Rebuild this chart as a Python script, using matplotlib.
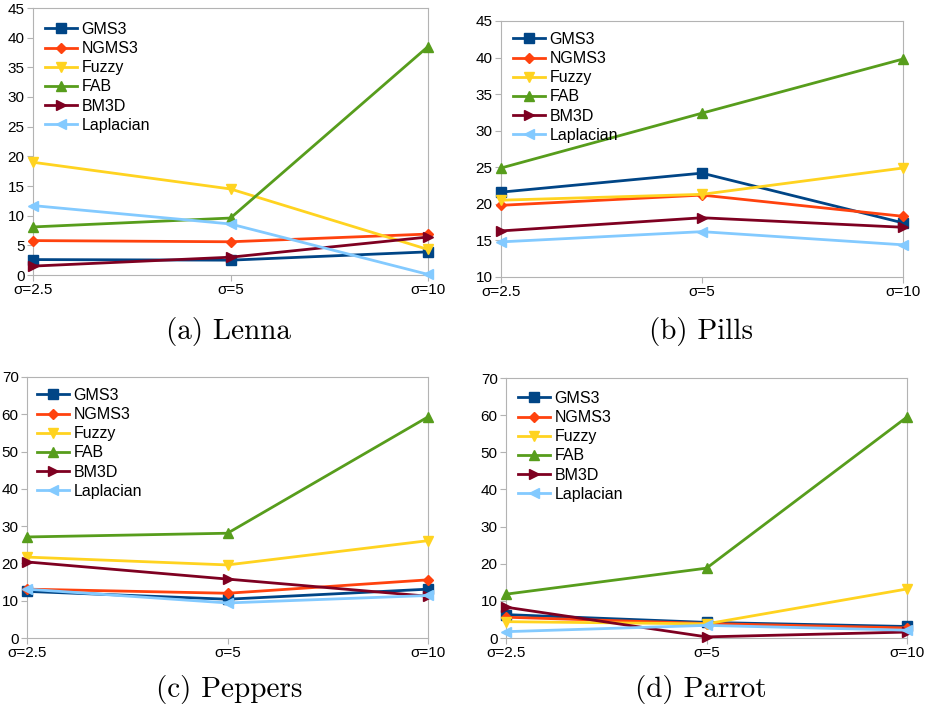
import matplotlib
matplotlib.use("Agg")
import matplotlib.pyplot as plt

plt.rcParams['font.family'] = ['Liberation Sans', 'DejaVu Sans']

x_labels = ["σ=2.5", "σ=5", "σ=10"]
methods = ["GMS3", "NGMS3", "Fuzzy", "FAB", "BM3D", "Laplacian"]

lenna = {
    "GMS3": [2.6, 2.5, 3.9],
    "NGMS3": [5.8, 5.6, 6.9],
    "Fuzzy": [19.0, 14.5, 4.3],
    "FAB": [8.1, 9.6, 38.5],
    "BM3D": [1.5, 3.0, 6.4],
    "Laplacian": [11.7, 8.6, 0.1],
}
pills = {
    "GMS3": [21.6, 24.2, 17.4],
    "NGMS3": [19.8, 21.2, 18.3],
    "Fuzzy": [20.5, 21.3, 24.9],
    "FAB": [24.9, 32.4, 39.8],
    "BM3D": [16.3, 18.1, 16.8],
    "Laplacian": [14.8, 16.2, 14.4],
}
peppers = {
    "GMS3": [12.5, 10.4, 13.1],
    "NGMS3": [13.1, 12.0, 15.6],
    "Fuzzy": [21.7, 19.6, 26.1],
    "FAB": [27.1, 28.1, 59.3],
    "BM3D": [20.4, 15.8, 11.2],
    "Laplacian": [13.1, 9.4, 11.4],
}
parrot = {
    "GMS3": [6.3, 4.2, 3.1],
    "NGMS3": [5.6, 3.9, 2.7],
    "Fuzzy": [4.4, 3.8, 13.2],
    "FAB": [11.8, 18.8, 59.5],
    "BM3D": [8.3, 0.3, 1.6],
    "Laplacian": [1.7, 3.4, 2.1],
}

captions = ["(a) Lenna", "(b) Pills", "(c) Peppers", "(d) Parrot"]
datasets = [lenna, pills, peppers, parrot]
ylims = [(0, 45, 5), (10, 45, 5), (0, 70, 10), (0, 70, 10)]

colors = {"GMS3": "#004586", "NGMS3": "#ff420e", "Fuzzy": "#ffd320",
          "FAB": "#579d1c", "BM3D": "#7e0021", "Laplacian": "#83caff"}
markers = {"GMS3": "s", "NGMS3": "D", "Fuzzy": "v", "FAB": "^",
           "BM3D": ">", "Laplacian": "<"}
msizes = {"GMS3": 6.5, "NGMS3": 5, "Fuzzy": 7.5, "FAB": 7.5, "BM3D": 7.5, "Laplacian": 7.5}

W, H = 925, 713
fig = plt.figure(figsize=(W / 100, H / 100), dpi=100)

# axes rectangles in pixels: left, top, right, bottom
rects = [(33, 8, 428, 275), (501, 21, 903, 277),
         (27, 377, 428, 638), (506, 378, 907, 638)]
# legend top-left offsets (pixels from axes top-left)
leg_off = [(12, 14), (12, 11), (10, 11), (12, 13)]
cap_pos = [(229, 332), (701, 332), (229, 690), (701, 690)]

for data, (l, t, r, b), (y0, y1, ys), cap, (cx, cy), (ox, oy) in zip(
        datasets, rects, ylims, captions, cap_pos, leg_off):
    ax = fig.add_axes([l / W, 1 - b / H, (r - l) / W, (b - t) / H])
    xs = range(len(x_labels))
    for m in methods:
        ax.plot(xs, data[m], color=colors[m], marker=markers[m], markersize=msizes[m],
                linewidth=2, label=m, clip_on=False, zorder=3)
    ax.set_xlim(0, 2)
    ax.set_ylim(y0, y1)
    ax.set_yticks(range(y0, y1 + 1, ys))
    ax.set_xticks(list(xs))
    ax.set_xticklabels(x_labels)
    for s in ax.spines.values():
        s.set_color("#b3b3b3")
    ax.tick_params(axis='y', length=4, color="#b3b3b3", labelsize=11, pad=2)
    ax.tick_params(axis='x', length=4, color="#b3b3b3", labelsize=11, pad=2)
    ax.legend(loc="upper left", bbox_to_anchor=(ox / (r - l), 1 - oy / (b - t)),
              frameon=False, fontsize=11.5, handlelength=2.0, labelspacing=0.26,
              handletextpad=0.3, borderaxespad=0, borderpad=0)
    fig.text(cx / W, 1 - cy / H, cap, family="cmr10", fontsize=21,
             ha="center", va="center")

fig.savefig("out.png", dpi=100)
